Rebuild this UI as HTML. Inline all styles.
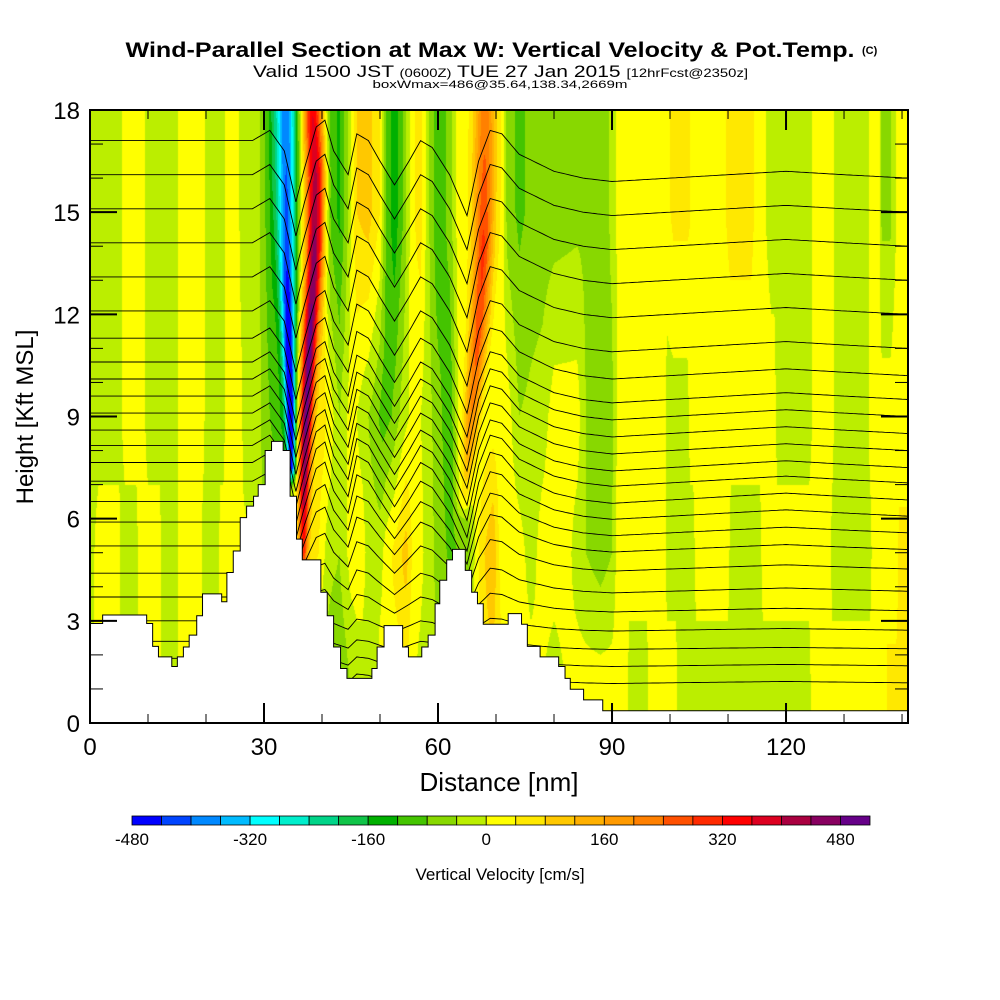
<!DOCTYPE html>
<html><head><meta charset="utf-8"><style>
html,body{margin:0;padding:0;background:#fff;width:1000px;height:1000px;overflow:hidden}
#wrap{position:relative;width:1000px;height:1000px}
#field{position:absolute;left:90px;top:110px}
#ov{position:absolute;left:0;top:0}
text{font-family:"Liberation Sans",Arial,sans-serif}
</style></head><body>
<div id="wrap">
<canvas id="field" width="818" height="613"></canvas>
<svg id="ov" width="1000" height="1000" xmlns="http://www.w3.org/2000/svg">
<text x="490" y="57" font-size="21" font-weight="bold" text-anchor="middle" textLength="729" lengthAdjust="spacingAndGlyphs">Wind-Parallel Section at Max W: Vertical Velocity &amp; Pot.Temp.</text>
<text x="862" y="54" font-size="11" font-weight="bold">(C)</text>
<text x="253" y="77" font-size="17" textLength="495" lengthAdjust="spacingAndGlyphs">Valid 1500 JST <tspan font-size="12">(0600Z)</tspan> TUE 27 Jan 2015 <tspan font-size="12">[12hrFcst@2350z]</tspan></text>
<text x="500" y="88" font-size="11" text-anchor="middle" textLength="255" lengthAdjust="spacingAndGlyphs">boxWmax=486@35.64,138.34,2669m</text>
<defs><clipPath id="fclip"><path id="fclipPath" d=""/></clipPath></defs>
<g id="terrain"></g>
<g id="isen" clip-path="url(#fclip)"></g>
<rect x="90" y="110" width="818" height="613" fill="none" stroke="#000" stroke-width="2"/>
<g id="ticks"></g>
<g id="cbar"></g>
<text x="499" y="791" font-size="26" text-anchor="middle">Distance [nm]</text>
<text transform="translate(33,417) rotate(-90)" font-size="24" text-anchor="middle">Height [Kft MSL]</text>
<text x="500" y="880" font-size="17" text-anchor="middle">Vertical Velocity [cm/s]</text>
</svg>
</div>
<script>
// ---- data ----
const binColors=["#0000ff","#0044ff","#0088ff","#00bbff","#00ffff","#00eecc","#00d488","#10c448","#00b000","#44c400","#88d800","#bbee00","#ffff00","#ffe800","#ffc800","#ffb000","#ff9a00","#ff8000","#ff5000","#ff2a00","#ff0000","#dd0020","#aa0040","#880060","#660088"];
const cbarTicks=[-480,-320,-160,0,160,320,480];
const xTicks=[0,30,60,90,120];
const yTicks=[0,3,6,9,12,15,18];
const terrX=[0,2.18,9.77,10.8,11.8,14.1,15.06,16.1,17.1,18.4,19.4,22.7,23.6,24.7,25.9,27.0,28.2,29.0,30.2,31.3,33.3,34.5,35.6,36.6,39.8,40.9,42.0,43.2,44.3,48.6,49.5,50.7,53.9,54.9,57.2,58.3,59.5,60.3,61.5,62.5,64.7,65.8,66.8,67.8,72.1,74.4,75.4,77.6,80.8,81.9,82.8,85.1,88.4,141.03];
const terrH=[2.92,3.17,2.92,2.25,1.94,1.66,1.94,2.23,2.58,3.15,3.79,3.56,4.42,5.05,6.03,6.37,6.66,7.0,8.0,8.27,8.0,6.66,5.4,4.79,3.84,3.15,2.23,1.6,1.31,1.6,2.23,2.86,2.23,1.94,2.23,2.58,3.5,4.19,4.79,5.1,4.48,3.84,3.5,2.9,3.21,2.9,2.25,1.94,1.66,1.31,0.99,0.68,0.36];
const rowH=[1,5,9,15];
const row1X=[0,1.5,5,5.5,8,8.5,12,12.5,15,15.5,19,19.5,22,22.5,26,36,42,44,46,49,50,53,54,55,57,59,66,68,70,72,76,80,84,88,92.5,93,96,96.5,101,101.5,121,124,124.5,137,137.5,141];
const row1W=[-20,20,20,-20,-20,20,20,-20,-20,20,20,-20,-20,20,20,20,-80,-60,-20,-20,20,20,40,20,-20,-40,20,60,60,20,20,-20,20,20,20,-20,-20,20,20,-20,-20,-20,20,20,50,50];
const row5X=[0,1.5,5,5.5,8,8.5,12,12.5,15,15.5,19,19.5,22,22.5,26,30,36.5,37,39.5,41,43,45,47,48,50,51,53,54.5,55.5,57,58,60,62,65,66,67,68,69.5,70.5,72,74,76,78,82,84,85.5,88,90,91,99,99.5,104,104.5,110,110.5,115.5,116,127.5,128,134.5,135,139,139.5,141];
const row5W=[-20,20,20,-20,-20,20,20,-20,-20,20,20,-20,-20,20,20,-40,0,60,40,-20,-40,20,20,-20,-20,20,60,100,40,20,-20,-50,-90,-70,-20,40,80,120,40,20,20,-20,20,20,-20,-40,-60,-40,20,20,-20,-20,20,20,-20,-20,20,20,-20,-20,20,20,50,50];
const row9X=[0,5,6,9,10,15,15.5,19.5,20,23,23.5,26,26.5,29,30,33,35,36.5,40,41.5,43,45,47,49,50.5,52,54,56,58,60,62,63.5,71,72,74,78,80,84,86,90,91,99,99.5,103,103.5,107,107.5,118,118.5,124,125,128,128.5,134,134.5,141];
const row9W=[-20,-20,20,20,-20,-20,20,20,-20,-20,20,20,-20,-20,-60,-120,-60,0,60,20,-40,20,-20,-60,-100,-80,-20,20,-20,-60,-120,0,20,20,-40,-20,20,20,-60,-50,10,20,-20,-20,20,20,20,20,-20,-20,20,20,-20,-20,20,20];
const row15X=[0,5,6,9,10,15,15.5,19.5,20,23,23.5,25.5,26,29,30.5,31.5,33,35,36.5,40,41.5,43,44.5,46,48,50,51,52.5,54,55.5,57,58.5,60,62,63.5,71,72,74,76,80,85,88,90,91,95,99,100.6,103,104.5,108,110.4,114,115.5,117.5,124,125,128,128.5,134,134.5,136,136.5,138,138.5,139.5,141];
const row15W=[-20,-20,20,20,-20,-20,20,20,-20,-20,20,20,-20,-30,-90,-130,-100,-50,0,50,-100,-130,-40,80,100,40,-80,-150,-80,30,60,-40,-120,-60,20,20,-60,-90,-70,-60,-50,-70,-30,10,20,20,50,50,20,20,50,50,20,-20,-20,20,20,-20,-20,20,20,-50,-50,-20,20,20];
// updraft / downdraft plumes
const blueH=[7.5,9,11,14,18], blueX=[34.7,34.6,34.3,34.0,33.9], blueA=[-420,-480,-440,-340,-310], blueS=[0.5,0.6,0.75,1.05,1.3];
const redH=[4.8,7,9,11,13.5,16,18], redX=[36.6,36.9,37.3,37.8,38.6,38.8,38.3], redA=[250,420,480,480,430,380,330], redS=[0.6,0.7,0.8,0.9,1.0,1.1,1.1];
const orH=[6.5,8,10,12,14,16,18], orX=[64.5,65.3,66.3,67.2,67.8,68.0,68.1], orA=[80,160,220,260,270,230,200], orS=[0.8,0.9,1.0,1.1,1.2,1.3,1.3];
// potential temperature isentropes
const thetaH=[17.1,16.1,15.1,14.1,13.1,12.1,11.3,10.6,10.1,9.6,9.1,8.6,8.15,7.65,7.1,6.5,5.9,5.2,4.4,3.7,3.0,2.4,1.9,1.4];
const dispX=[0,28,31,33.5,35.5,37,39,40.5,42,44.5,46,48,50,52.5,55,57,59,62,65,67,69,71,74,80,85,90,100,110,120,130,141.03];
const dispK=[0,0,0.3,-0.3,-1.8,-0.8,0.4,0.6,-0.3,-1.0,0.2,0,-0.6,-1.3,-0.6,0,-0.2,-1.0,-2.2,-0.6,0.3,0.2,-0.4,-0.9,-1.1,-1.2,-1.1,-1.0,-0.9,-1.0,-1.1];

// ---- scales ----
const X0=90,X1=908,Y0=110,Y1=723,XMAX=141.03,HMAX=18;
const sx=v=>X0+v/XMAX*(X1-X0);
const sy=v=>Y1-v/HMAX*(Y1-Y0);
function interp(xs,ys,x){if(x<=xs[0])return ys[0];const n=xs.length;if(x>=xs[n-1])return ys[n-1];
 for(let i=1;i<n;i++){if(x<=xs[i]){const t=(x-xs[i-1])/(xs[i]-xs[i-1]||1);return ys[i-1]+t*(ys[i]-ys[i-1]);}}return ys[n-1];}
const NS='http://www.w3.org/2000/svg';
function mk(tag,attrs,parent){const e=document.createElementNS(NS,tag);for(const k in attrs)e.setAttribute(k,attrs[k]);parent.appendChild(e);return e;}

// ---- field ----
(function(){
 const cv=document.getElementById('field'),ctx=cv.getContext('2d');
 const W=cv.width,H=cv.height,img=ctx.createImageData(W,H);
 const rgb=binColors.map(c=>[parseInt(c.slice(1,3),16),parseInt(c.slice(3,5),16),parseInt(c.slice(5,7),16)]);
 const rows=[[row1X,row1W],[row5X,row5W],[row9X,row9W],[row15X,row15W]];
 const colVals=[];
 for(let px=0;px<W;px++){const x=(px+0.5)/W*XMAX;colVals.push(rows.map(r=>interp(r[0],r[1],x)));}
 const jets=[[blueH,blueX,blueA,blueS],[redH,redX,redA,redS],[orH,orX,orA,orS]];
 for(let py=0;py<H;py++){
  const h=HMAX-(py+0.5)/H*HMAX;
  let li=0;while(li<rowH.length-2&&h>rowH[li+1])li++;
  let t=(h-rowH[li])/(rowH[li+1]-rowH[li]);t=Math.max(0,Math.min(1,t));
  const jp=jets.map(j=>{let a=interp(j[0],j[2],h);if(h<j[0][0])a*=Math.max(0,1-(j[0][0]-h)/0.6);return [interp(j[0],j[1],h),a,interp(j[0],j[3],h)];});
  for(let px=0;px<W;px++){
   const x=(px+0.5)/W*XMAX,cvv=colVals[px];
   let w=cvv[li]+(cvv[li+1]-cvv[li])*t;
   for(const q of jp){const d=(x-q[0])/q[2];if(d*d<30)w+=q[1]*Math.exp(-0.5*d*d);}
   let b=Math.floor((w+480)/40);b=Math.max(0,Math.min(24,b));
   const c=rgb[b],k=(py*W+px)*4;img.data[k]=c[0];img.data[k+1]=c[1];img.data[k+2]=c[2];img.data[k+3]=255;
  }
 }
 ctx.putImageData(img,0,0);
})();

// ---- terrain & clip ----
(function(){
 let d=`M${sx(0)},${sy(0)}`;
 for(let i=0;i<terrH.length;i++){d+=` L${sx(terrX[i])},${sy(terrH[i])} L${sx(terrX[i+1])},${sy(terrH[i])}`;}
 d+=` L${sx(XMAX)},${sy(0)} Z`;
 const p=mk('path',{d:d,fill:'#fff',stroke:'#000','stroke-width':1},document.getElementById('terrain'));
 
 
 let c=`M${sx(0)},${sy(HMAX)} L${sx(XMAX)},${sy(HMAX)}`;
 for(let i=terrH.length-1;i>=0;i--){c+=` L${sx(terrX[i+1])},${sy(terrH[i])} L${sx(terrX[i])},${sy(terrH[i])}`;}
 c+=' Z';
 document.getElementById('fclipPath').setAttribute('d',c);
})();

// ---- isentropes ----
(function(){
 const g=document.getElementById('isen');
 thetaH.forEach((h0,i)=>{
  const gf=Math.max(0.2,Math.min(1,(h0-1.5)/6));
  let d='';
  for(let x=0;x<=XMAX+0.01;x+=0.5){
   const h=h0+interp(dispX,dispK,x)*gf;
   d+=(d?' L':'M')+sx(x).toFixed(1)+','+sy(h).toFixed(1);
  }
  const p=mk('path',{d:d,fill:'none',stroke:'#000','stroke-width':0.9},g);
  
  
 });
})();

// ---- ticks & labels ----
(function(){
 const g=document.getElementById('ticks');
 for(let v=0;v<=18;v++){const L=(v%3===0)?27:13,y=sy(v);
  mk('line',{x1:X0,y1:y,x2:X0+L,y2:y,stroke:'#000','stroke-width':(v%3===0)?2:1},g);
  mk('line',{x1:X1,y1:y,x2:X1-L,y2:y,stroke:'#000','stroke-width':(v%3===0)?2:1},g);}
 for(let v=0;v<=140;v+=10){const L=(v%30===0)?20:9,x=sx(v);
  mk('line',{x1:x,y1:Y1,x2:x,y2:Y1-L,stroke:'#000','stroke-width':(v%30===0)?2:1},g);
  mk('line',{x1:x,y1:Y0,x2:x,y2:Y0+L,stroke:'#000','stroke-width':(v%30===0)?2:1},g);}
 yTicks.forEach(v=>{const t=mk('text',{x:80,y:sy(v)+9,'font-size':24,'text-anchor':'end'},g);t.textContent=v;
  
  });
 xTicks.forEach(v=>{const t=mk('text',{x:sx(v),y:755,'font-size':24,'text-anchor':'middle'},g);t.textContent=v;
  
  });
})();

// ---- colorbar ----
(function(){
 const g=document.getElementById('cbar'),cx0=132,cx1=870,bw=(cx1-cx0)/binColors.length;
 binColors.forEach((c,i)=>{const r=mk('rect',{x:cx0+i*bw,y:816,width:bw,height:9,fill:c,stroke:'#000','stroke-width':0.8},g);
  
  });
 cbarTicks.forEach(v=>{const i=(v+480)/40;const t=mk('text',{x:cx0+i*bw,y:845,'font-size':17,'text-anchor':'middle'},g);t.textContent=v;
  
  });
})();
</script>
</body></html>
